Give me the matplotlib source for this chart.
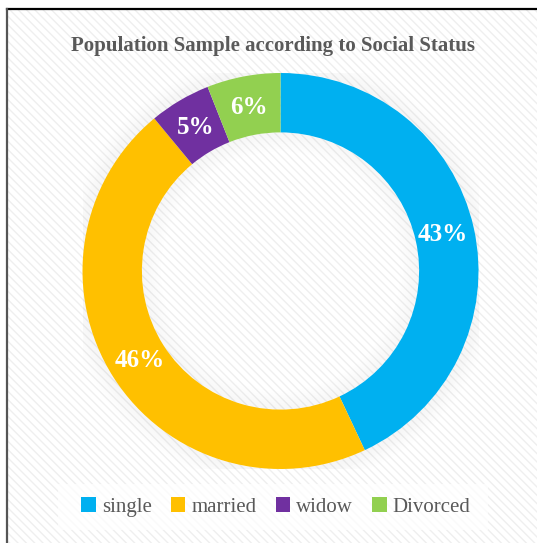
import matplotlib.pyplot as plt
from matplotlib.patches import Rectangle, Wedge, Patch

# data
labels = ['single', 'married', 'widow', 'Divorced']
shares = [43, 46, 5, 6]
colors = ['#00B0F0', '#FFC000', '#7030A0', '#92D050']
title = 'Population Sample according to Social Status'

W, H = 537, 543
plt.rcParams['font.family'] = ['Liberation Serif', 'DejaVu Serif']

fig = plt.figure(figsize=(W / 100, H / 100), dpi=100)
fig.patch.set_facecolor('white')

# background axes in pixel coords
bg = fig.add_axes([0, 0, 1, 1])
bg.set_xlim(0, W)
bg.set_ylim(H, 0)
bg.axis('off')
bg.add_patch(Rectangle((7, 8.5), W, H, facecolor='white', edgecolor='#efefef',
                       hatch='\\\\\\\\', linewidth=0, zorder=0))
bg.plot([7, W], [8.5, 8.5], color='black', lw=1.6, zorder=2)
bg.plot([7, 7], [8.5, H], color='#555555', lw=1.6, zorder=2)
bg.text(273, 46, title, ha='center', va='center', fontsize=15, fontweight='bold',
        color='#595959')
bg.add_patch(Rectangle((58, 484), 430, 46, facecolor='white', alpha=0.7,
                       edgecolor='none', zorder=1))

# donut
cx, cy, R = 280.5, 271, 198
ax = fig.add_axes([(cx - R) / W, (H - cy - R) / H, 2 * R / W, 2 * R / H])
ax.patch.set_alpha(0)

# soft shadow around the ring
for i in range(8):
    d = 0.012 * (i + 1)
    ax.add_patch(Wedge((0, 0), 1.0 + d, 0, 360, width=0.012,
                       facecolor='#000000', alpha=0.035 * (8 - i) / 8, lw=0))
    ax.add_patch(Wedge((0, 0), 0.70 - d + 0.012, 0, 360, width=0.012,
                       facecolor='#000000', alpha=0.03 * (8 - i) / 8, lw=0))

wedges, _, autotexts = ax.pie(shares, colors=colors, startangle=90, counterclock=False,
                              radius=1.0, autopct='%d%%', pctdistance=0.84,
                              wedgeprops=dict(width=0.30, linewidth=0))
for t in autotexts:
    t.set_color('white')
    t.set_fontsize(18)
    t.set_fontweight('bold')
ax.set_xlim(-1, 1)
ax.set_ylim(-1, 1)
ax.set_aspect('equal')
ax.axis('off')

handles = [Patch(facecolor=c, edgecolor='none') for c in colors]
fig.legend(handles, labels, loc='center', bbox_to_anchor=(276 / W, (H - 507) / H),
           ncol=4, frameon=False, fontsize=15, handlelength=0.7, handleheight=0.7,
           handletextpad=0.3, columnspacing=0.9, labelcolor='#595959')

fig.savefig('out.png', dpi=100)
